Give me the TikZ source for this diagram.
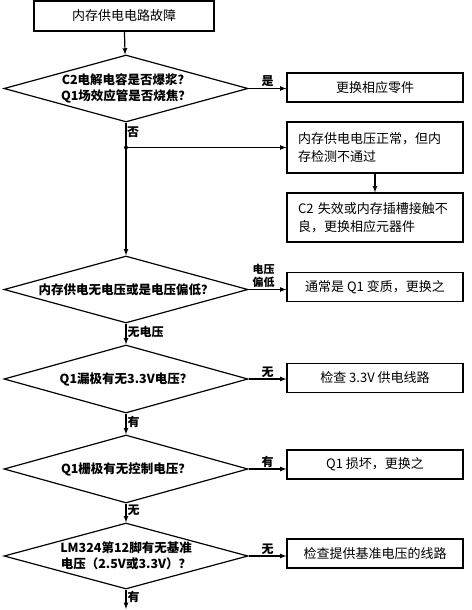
\documentclass[tikz,border=0pt]{standalone}
\usepackage{fontspec}
\newfontfamily\cjk{Noto Sans CJK SC}
\usepackage{tikz}
\usetikzlibrary{shapes.geometric}

\begin{document}
\begin{tikzpicture}[
  x=1pt, y=-1pt,
  box/.style={draw, rectangle, line width=1.2pt, inner sep=0pt, minimum width=176pt,
  minimum height=29pt, font=\cjk\fontsize{13}{18}\selectfont},
  note/.style={box, align=left, text width=154pt},
  question/.style={draw, diamond, line width=1.2pt, inner sep=0pt, aspect=3.6,
  minimum width=244pt, minimum height=67pt},
  asktext/.style={font=\cjk\bfseries\fontsize{12.5}{16}\selectfont, align=center, inner sep=0pt},
  arrow/.style={draw, -latex, line width=1.2pt},
  answer/.style={font=\cjk\bfseries\fontsize{12}{13}\selectfont, inner sep=1pt, align=center}
]
\useasboundingbox (0,0) rectangle (471,610);

\node[box, minimum width=180pt, minimum height=30pt] (fault) at (124,16) {内存供电电路故障};
\node[question, label={[asktext]center:{C2电解电容是否爆浆？\\Q1场效应管是否烧焦？}}] (burnt) at (126,88.5) {};
\node[box] (parts) at (375,87.5) {更换相应零件};
\node[note, minimum height=51pt] (memtest) at (375,147.5) {内存供电电压正常，但内\\存检测不通过};
\node[note, minimum height=49pt] (socket) at (375,217.5) {C2 失效或内存插槽接触不\\良，更换相应元器件};
\node[question, label={[asktext]center:内存供电无电压或是电压偏低？}] (novolt) at (126,289.5) {};
\node[box] (weakq) at (375,287) {通常是 Q1 变质，更换之};
\node[question, minimum height=68pt, label={[asktext]center:Q1漏极有无3.3V电压？}] (drain) at (126,379) {};
\node[box] (supply) at (375,378) {检查 3.3V 供电线路};
\node[question, minimum height=68pt, label={[asktext]center:Q1栅极有无控制电压？}] (gate) at (126,469) {};
\node[box] (broken) at (375,464.5) {Q1 损坏，更换之};
\node[question, minimum height=66pt, label={[asktext]center:{LM324第12脚有无基准\\电压（2.5V或3.3V）？}}] (lm) at (126,556) {};
\node[box] (refline) at (375,553.5) {检查提供基准电压的线路};
\coordinate (split) at (burnt.south |- memtest.west);
\coordinate (next) at (126,609);

\draw[arrow] (fault) -- (burnt);
\draw[arrow] (burnt.east) -- node[answer, above] {是} (burnt.east -| parts.west);
\draw[arrow] (burnt.south) -- (novolt.north);
\path (burnt.south) -- node[answer, right, pos=0.38] {否} (split);
\draw[arrow] (split) -- (memtest.west);
\fill (split) circle (2pt);
\draw[arrow] (memtest) -- (socket);
\draw[arrow] (novolt.east) -- node[answer, above, xshift=-4pt, font=\cjk\bfseries\fontsize{11}{13}\selectfont] {电压\\偏低} (novolt.east -| weakq.west);
\draw[arrow] (novolt.south) -- node[answer, right, pos=0.4] {无电压} (drain.north);
\draw[arrow] (drain.east) -- node[answer, above] {无} (drain.east -| supply.west);
\draw[arrow] (drain.south) -- node[answer, right, pos=0.4] {有} (gate.north);
\draw[arrow] (gate.east) -- node[answer, above] {有} (gate.east -| broken.west);
\draw[arrow] (gate.south) -- node[answer, right, pos=0.35] {无} (lm.north);
\draw[arrow] (lm.east) -- node[answer, above] {无} (lm.east -| refline.west);
\draw[arrow] (lm.south) -- node[answer, right, pos=0.4] {有} (next);

\end{tikzpicture}
\end{document}
